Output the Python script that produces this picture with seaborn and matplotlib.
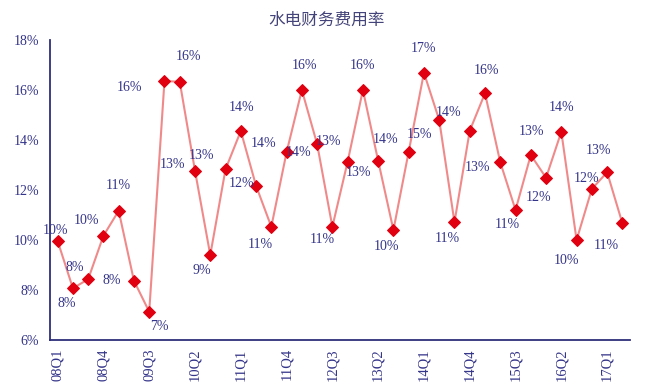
import matplotlib
matplotlib.use("Agg")
import matplotlib.pyplot as plt
import seaborn as sns
import pandas as pd
import numpy as np

# ---- data ----
quarters = ["08Q1", "08Q2", "08Q3", "08Q4", "09Q1", "09Q2", "09Q3", "09Q4",
            "10Q1", "10Q2", "10Q3", "10Q4", "11Q1", "11Q2", "11Q3", "11Q4",
            "12Q1", "12Q2", "12Q3", "12Q4", "13Q1", "13Q2", "13Q3", "13Q4",
            "14Q1", "14Q2", "14Q3", "14Q4", "15Q1", "15Q2", "15Q3", "15Q4",
            "16Q1", "16Q2", "16Q3", "16Q4", "17Q1", "17Q2"]
rate = [9.96, 8.07, 8.43, 10.17, 11.17, 8.37, 7.13, 16.36,
        16.33, 12.77, 9.40, 12.83, 14.36, 12.17, 10.53, 13.51,
        16.00, 13.84, 10.53, 13.13, 16.00, 13.17, 10.40, 13.53,
        16.69, 14.80, 10.71, 14.37, 15.87, 13.11, 11.20, 13.40,
        12.49, 14.33, 10.00, 12.04, 12.71, 10.67]
yticks = [6, 8, 10, 12, 14, 16, 18]
title = "水电财务费用率"

# data labels as printed on the chart (text, point index)
label_texts = ["10%", "8%", "8%", "10%", "11%", "8%", "7%", "16%", "16%", "13%",
               "9%", "13%", "14%", "12%", "11%", "14%", "14%", "16%", "13%", "11%",
               "13%", "16%", "14%", "10%", "15%", "17%", "14%", "11%", "13%", "16%",
               "11%", "13%", "12%", "14%", "10%", "12%", "13%", "11%"]
label_points = [0, 1, 2, 3, 4, 5, 6, 7, 8, 9,
                10, 11, 12, 13, 14, 15, 15, 16, 17, 18,
                19, 20, 21, 22, 23, 24, 25, 26, 29, 28,
                30, 31, 32, 33, 34, 35, 36, 37]
# label placement offsets in pixels (dx right, dy down)
label_offsets = [(-2, -10), (-6, 15), (-13, -12), (-17, -15), (0, -25), (-22, 0), (10, 15),
                 (-35, 7), (9, -25), (-23, -6), (-8, 15), (-24, -14), (1, -23), (-15, -2),
                 (-11, 18), (12, 0), (-23, -9), (3, -24), (11, -2), (-10, 13), (11, 11),
                 (0, -24), (7, -21), (-7, 17), (11, -17), (0, -24), (9, -7), (-7, 16),
                 (-23, 5), (1, -23), (-8, 15), (1, -23), (-8, 20), (0, -24), (-10, 20),
                 (-5, -11), (-9, -22), (-16, 22)]

df = pd.DataFrame({"pos": np.arange(len(quarters)), "quarter": quarters, "rate": rate})

sns.set_style("white")
navy = "#2e2e7a"
text_col = "#34348a"
serif = ["Liberation Serif", "DejaVu Serif"]

fig = plt.figure(figsize=(6.47, 3.87), dpi=100)
ax = fig.add_axes([50 / 647, 1 - 340 / 387, 580 / 647, 300 / 387])

sns.lineplot(data=df, x="pos", y="rate", ax=ax, color="#f08a8a", linewidth=1.5,
             marker="D", markersize=6, markerfacecolor="#e00010",
             markeredgecolor="#e00010", zorder=3)

for txt, pi, (dx, dy) in zip(label_texts, label_points, label_offsets):
    ax.annotate(txt, (pi, rate[pi]), xytext=(dx, -dy), textcoords="offset pixels",
                ha="center", va="center", fontsize=10, color=text_col, family=serif)

ax.set_xlim(-0.5, len(quarters) - 0.5)
ax.set_ylim(6, 18)
ax.set_yticks(yticks)
ax.set_yticklabels([f"{v}%" for v in yticks], family=serif, fontsize=10, color=text_col)
major = list(range(0, len(quarters), 3))
ax.set_xticks(major)
ax.set_xticklabels([quarters[i] for i in major], rotation=90, family=serif,
                   fontsize=10.5, color=text_col)
ax.set_xticks(np.arange(-0.5, len(quarters), 1.0), minor=True)
ax.tick_params(axis="x", which="major", length=0, pad=6)
ax.tick_params(axis="x", which="minor", length=4, direction="in", color=navy, width=1)
ax.tick_params(axis="y", which="major", length=4, direction="in", color=navy, width=1, pad=8)
ax.set_xlabel("")
ax.set_ylabel("")

for s in ["top", "right"]:
    ax.spines[s].set_visible(False)
for s in ["left", "bottom"]:
    ax.spines[s].set_color(navy)
    ax.spines[s].set_linewidth(1.3)

fig.text(327 / 647, 1 - 20 / 387, title, ha="center", va="center", fontsize=12,
         color="#44447a", family=["Noto Sans CJK SC", "DejaVu Sans"])

fig.savefig("out.png", dpi=100, facecolor="white")
